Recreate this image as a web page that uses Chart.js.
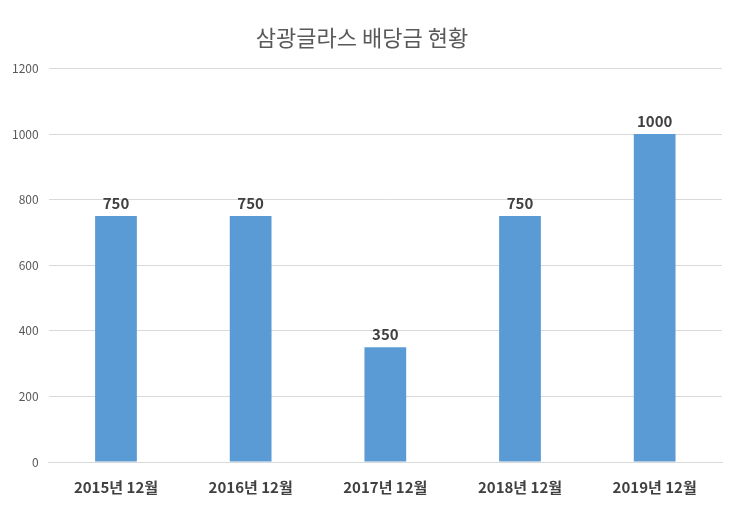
<!DOCTYPE html>
<html>
<head>
<meta charset="utf-8">
<script src="https://cdn.jsdelivr.net/npm/chart.js@4"></script>
<style>
  html, body { margin: 0; padding: 0; background: #fff; }
  #wrap { width: 740px; height: 516px; }
</style>
</head>
<body>
<div id="wrap"><canvas id="divChart"></canvas></div>
<script>
  const categories = ['2015년 12월', '2016년 12월', '2017년 12월', '2018년 12월', '2019년 12월'];
  const dividends = [750, 750, 350, 750, 1000];

  // draw value labels above bars
  const valueLabels = {
    id: 'valueLabels',
    afterDatasetsDraw(chart) {
      const ctx = chart.ctx;
      const meta = chart.getDatasetMeta(0);
      ctx.save();
      ctx.font = "bold 15px 'Noto Sans CJK KR', sans-serif";
      ctx.fillStyle = '#404040';
      ctx.textAlign = 'center';
      ctx.textBaseline = 'bottom';
      meta.data.forEach((bar, i) => {
        ctx.fillText(dividends[i], bar.x, bar.y - 5);
      });
      ctx.restore();
    }
  };

  Chart.defaults.font.family = "'Noto Sans CJK KR', sans-serif";

  new Chart(document.getElementById('divChart').getContext('2d'), {
    type: 'bar',
    plugins: [valueLabels],
    data: {
      labels: categories,
      datasets: [{
        data: dividends,
        backgroundColor: '#5B9BD5',
        barPercentage: 0.31,
        categoryPercentage: 1
      }]
    },
    options: {
      responsive: true,
      maintainAspectRatio: false,
      animation: false,
      layout: { padding: { left: 2, right: 18, top: 12, bottom: 12 } },
      plugins: {
        legend: { display: false },
        tooltip: { enabled: false },
        title: {
          display: true,
          text: '삼광글라스 배당금 현황',
          color: '#595959',
          font: { size: 22, weight: 'normal' },
          padding: { top: 12, bottom: 18 }
        }
      },
      scales: {
        x: {
          grid: { display: false },
          border: { color: '#d9d9d9' },
          ticks: { color: '#404040', font: { size: 15, weight: 'bold' }, padding: 8 }
        },
        y: {
          min: 0,
          max: 1200,
          ticks: { stepSize: 200, color: '#595959', font: { size: 12 }, padding: 10, callback: v => String(v) },
          grid: { color: '#d9d9d9', drawTicks: false },
          border: { display: false }
        }
      }
    }
  });
</script>
</body>
</html>
